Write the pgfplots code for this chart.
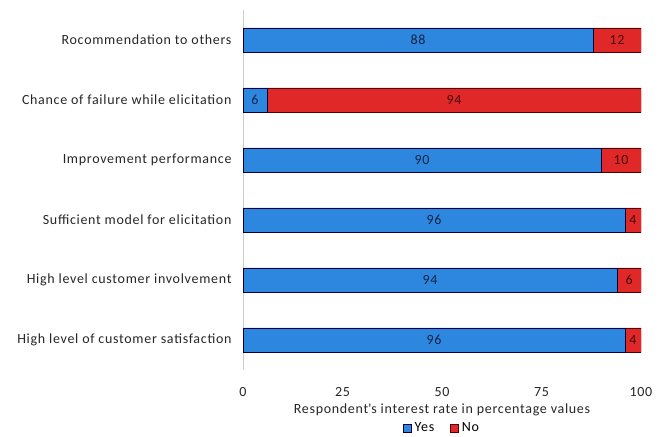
\documentclass[border=0pt]{standalone}
\usepackage{pgfplots}
\pgfplotsset{compat=1.18}
\usepackage{fontspec}
\setmainfont{Carlito}[LetterSpace=5]
\definecolor{yesblue}{RGB}{45,135,222}
\definecolor{nored}{RGB}{224,40,40}
\definecolor{yestext}{RGB}{20,35,70}
\definecolor{notext}{RGB}{70,10,10}
\begin{document}
\begin{tikzpicture}
\useasboundingbox (0,0) rectangle (665bp,437bp);
\begin{axis}[
  at={(243bp,67bp)}, anchor=south west,
  scale only axis, width=398bp, height=360bp,
  xbar stacked, bar width=24bp,
  xmin=0, xmax=100, ymin=-0.5, ymax=5.5,
  xtick={0,25,50,75,100},
  ytick={0,1,2,3,4,5},
  yticklabels={High level of customer satisfaction, High level customer involvement, Sufficient model for elicitation, Improvement performance, Chance of failure while elicitation, Rocommendation to others},
  tick label style={font=\fontsize{14bp}{16bp}\selectfont, text=black!85},
  /pgf/number format/assume math mode=true,
  yticklabel style={xshift=-8bp},
  xticklabel style={anchor=center, yshift=-22bp},
  axis x line*=bottom, axis y line*=left,
  x axis line style={draw=none},
  y axis line style={draw=gray!40},
  major tick length=0pt,
  xlabel={Respondent\textquotesingle s interest rate in percentage values},
  xlabel style={font=\fontsize{14bp}{16bp}\selectfont, text=black!85, at={(axis description cs:0.5,-0.111)}, anchor=center},
  legend style={at={(0.5,-0.161)}, anchor=center, draw=none, font=\fontsize{14bp}{16bp}\selectfont, legend columns=2, /tikz/every even column/.append style={column sep=14bp}, /tikz/every odd column/.append style={column sep=1bp}, inner sep=0pt},
  legend image code/.code={\draw[#1, line width=0.6pt] (0bp,-4bp) rectangle (8bp,4bp);},
]
\addplot[fill=yesblue, draw=black!75!blue, line width=0.6pt] coordinates {(96,0) (94,1) (96,2) (90,3) (6,4) (88,5)};
\addlegendentry{Yes}
\addplot[fill=nored, draw=black!70!red, line width=0.6pt] coordinates {(4,0) (6,1) (4,2) (10,3) (94,4) (12,5)};
\addlegendentry{No}
\end{axis}
\begin{axis}[
  at={(243bp,67bp)}, anchor=south west,
  scale only axis, width=398bp, height=360bp,
  xmin=0, xmax=100, ymin=-0.5, ymax=5.5,
  hide axis, clip=false,
  nodes near coords, point meta=explicit symbolic,
  every node near coord/.append style={anchor=center, font=\fontsize{14bp}{16bp}\selectfont},
]
\addplot[draw=none, mark=none, nodes near coords style={text=yestext}] coordinates {(48,0)[96] (47,1)[94] (48,2)[96] (45,3)[90] (3,4)[6] (44,5)[88]};
\addplot[draw=none, mark=none, nodes near coords style={text=notext}] coordinates {(98,0)[4] (97,1)[6] (98,2)[4] (95,3)[10] (53,4)[94] (94,5)[12]};
\end{axis}
\end{tikzpicture}
\end{document}
